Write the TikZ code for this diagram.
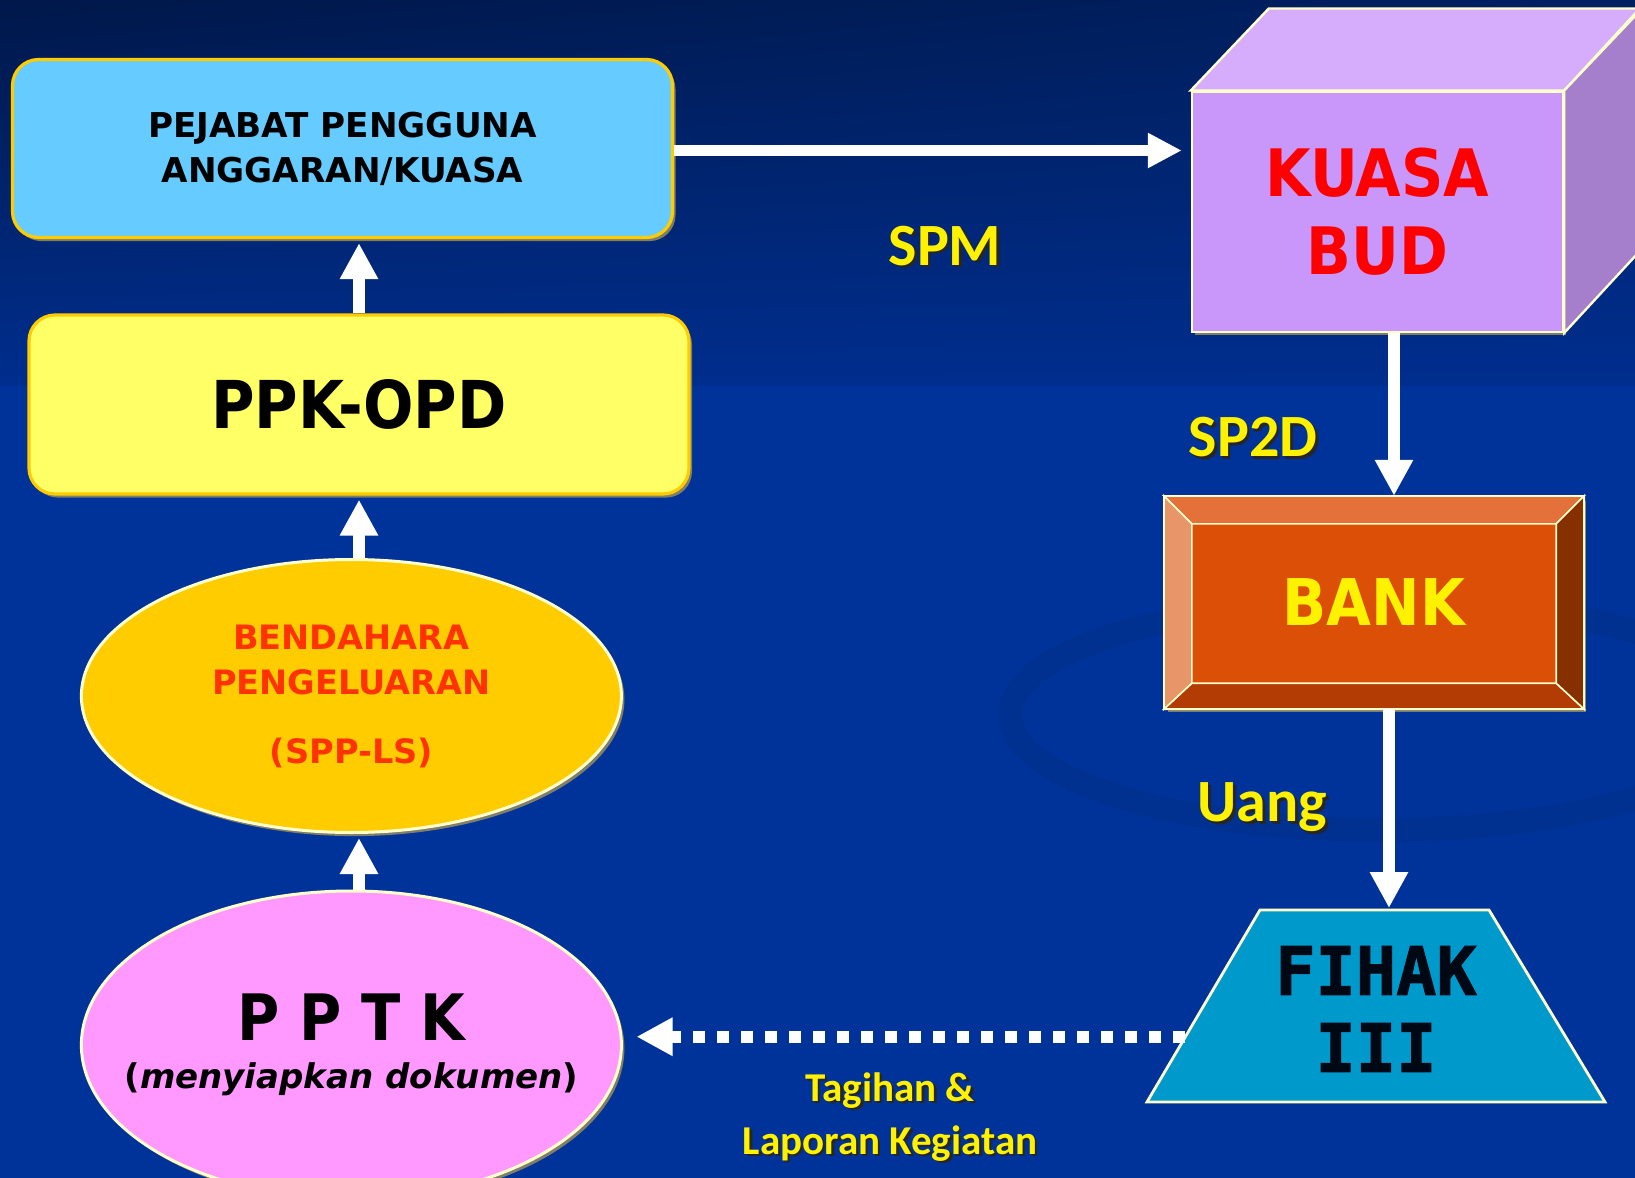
\documentclass[tikz,border=0pt]{standalone}
\usepackage{fontspec}
\setmainfont{DejaVu Sans}
\newfontfamily\condfont{DejaVu Sans Condensed Bold}
\newfontfamily\monobold[FakeBold=1.5]{DejaVu Sans Mono Bold}
\newfontfamily\calfont{Carlito}
\usetikzlibrary{shapes.geometric,arrows.meta,calc,shadows,shadings}

\definecolor{bgtop}{RGB}{0,24,74}
\definecolor{bgtopright}{RGB}{0,32,98}
\definecolor{bgband}{RGB}{0,46,142}
\definecolor{bgmid}{RGB}{0,51,153}
\definecolor{skyblue}{RGB}{102,204,255}
\definecolor{lemon}{RGB}{255,255,102}
\definecolor{gold}{RGB}{255,204,0}
\definecolor{cream}{RGB}{255,255,204}
\definecolor{ppkpink}{RGB}{255,153,255}
\definecolor{redorange}{RGB}{255,51,0}
\definecolor{lilac}{RGB}{201,151,250}
\definecolor{lilactop}{RGB}{214,172,252}
\definecolor{lilacside}{RGB}{165,127,204}
\definecolor{brick}{RGB}{220,79,6}
\definecolor{bricktop}{RGB}{228,112,58}
\definecolor{brickleft}{RGB}{232,150,105}
\definecolor{brickright}{RGB}{134,48,0}
\definecolor{brickbottom}{RGB}{178,60,4}
\definecolor{fihakblue}{RGB}{0,153,204}
\definecolor{shade}{RGB}{140,135,100}

% yellow label with a dark shadow
\newcommand{\shtext}[1]{\makebox[0pt][l]{\hspace{1.3pt}\raisebox{-1.3pt}{\color{black!85}#1}}#1}

\begin{document}
\begin{tikzpicture}[x=0.5pt,y=-0.5pt,
    box/.style={rectangle,rounded corners=13pt,draw=gold,line width=1.6pt,
        minimum width=330pt,minimum height=89pt,align=center,
        drop shadow={shadow xshift=1.5pt,shadow yshift=-1.8pt,fill=shade,opacity=.9}},
    oval/.style={ellipse,draw=cream,line width=1.5pt,minimum width=270pt,align=center,inner sep=0pt,
        drop shadow={shadow xshift=1.5pt,shadow yshift=-1.8pt,fill=shade,opacity=.9}},
    flow/.style={draw=white,line width=5.8pt,-{Triangle[width=18pt,length=18pt]}},
    dotflow/.style={draw=white,line width=5.8pt,dash pattern=on 6.2pt off 5.8pt,
        -{Triangle[width=18pt,length=18pt]}},
    lbl/.style={text=yellow,inner sep=0pt,anchor=base,
        font=\calfont\bfseries\fontsize{30}{36}\selectfont},
    facet/.style={draw=cream,line width=.8pt}]

  \useasboundingbox (0,0) rectangle (1635,1178);
  \clip (0,0) rectangle (1635,1178);

  % background
  \fill[bgmid] (0,0) rectangle (1635,1178);
  \shade[upper left=bgtop,upper right=bgtopright,lower left=bgband,lower right=bgband]
    (0,0) rectangle (1635,385);
  \draw[line width=12pt,black,opacity=.06] (1380,715) ellipse [x radius=370,y radius=115];

  % left column
  \node[box,fill=skyblue,font=\bfseries\fontsize{17.1}{22.5}\selectfont] (pejabat)
    at (342.5,148.5) {PEJABAT PENGGUNA\\ANGGARAN/KUASA};
  \node[box,fill=lemon,minimum height=89.5pt,font=\condfont\fontsize{33}{36}\selectfont] (ppk)
    at (359,404.5) {PPK-OPD};
  \node[oval,fill=gold,minimum height=136.5pt,text=redorange,
    font=\bfseries\fontsize{16.8}{22.5}\selectfont] (bendahara)
    at (351.4,696) {BENDAHARA\\PENGELUARAN\\[12pt](SPP-LS)};
  \node[oval,fill=ppkpink,minimum height=154pt,font=\bfseries\fontsize{17}{24}\selectfont] (pptk)
    at (351.4,1045) {{\condfont\fontsize{32}{24}\selectfont P P T K}\\
    \makebox[150pt]{(\textit{menyiapkan dokumen})}};

  % KUASA BUD cube
  \node[rectangle,fill=lilac,draw=cream,line width=1.2pt,minimum width=185.5pt,minimum height=120pt,
    align=center,text=red,font=\condfont\fontsize{32.7}{38.75}\selectfont,
    drop shadow={shadow xshift=1.5pt,shadow yshift=-1.8pt,fill=shade,opacity=.9}] (kuasa)
    at (1377.5,211.7) {KUASA\\BUD};
  \draw[facet,line width=1.2pt,fill=lilactop] (kuasa.north west) -- ++(78,-82) -- ++(371,0)
    -- (kuasa.north east) -- cycle;
  \draw[facet,line width=1.2pt,fill=lilacside] (kuasa.north east) -- ++(78,-82) -- ++(0,240)
    -- (kuasa.south east) -- cycle;

  % BANK
  \node[rectangle,fill=brick,draw=cream,line width=1.2pt,minimum width=209pt,minimum height=105.5pt,
    text=yellow,font=\condfont\fontsize{32.2}{38}\selectfont,
    drop shadow={shadow xshift=1.5pt,shadow yshift=-1.8pt,fill=shade,opacity=.9}] (bank)
    at (1374,602.5) {BANK};
  \coordinate (bnw) at ($(bank.north west)+(28,28)$);
  \coordinate (bne) at ($(bank.north east)+(-28,28)$);
  \coordinate (bsw) at ($(bank.south west)+(28,-26)$);
  \coordinate (bse) at ($(bank.south east)+(-28,-26)$);
  \draw[facet,fill=bricktop] (bank.north west) -- (bank.north east) -- (bne) -- (bnw) -- cycle;
  \draw[facet,fill=brickbottom] (bank.south west) -- (bank.south east) -- (bse) -- (bsw) -- cycle;
  \draw[facet,fill=brickleft] (bank.north west) -- (bnw) -- (bsw) -- (bank.south west) -- cycle;
  \draw[facet,fill=brickright] (bank.north east) -- (bne) -- (bse) -- (bank.south east) -- cycle;
  \draw[cream,line width=1.2pt] (bank.north west) rectangle (bank.south east);

  % FIHAK III
  \coordinate (ftl) at (1260,910);
  \coordinate (ftr) at (1489,910);
  \coordinate (fbr) at (1605,1102);
  \coordinate (fbl) at (1147,1102);
  \fill[shade,opacity=.9,xshift=1.5pt,yshift=-1.8pt] (ftl) -- (ftr) -- (fbr) -- (fbl) -- cycle;
  \filldraw[fill=fihakblue,draw=cream,line width=1.4pt] (ftl) -- (ftr) -- (fbr) -- (fbl) -- cycle;
  \node[align=center,text={rgb,255:red,0;green,8;blue,20},
    font=\monobold\fontsize{33.5}{38.5}\selectfont] (fihak) at (1376,1009) {FIHAK\\III};

  % connectors
  \draw[flow,shorten >=2pt] (ppk.north) -- (ppk.north |- pejabat.south);
  \draw[flow,shorten >=2pt] (ppk.south |- bendahara.north) -- (ppk.south);
  \draw[flow,shorten >=2pt] (ppk.south |- pptk.north) -- (ppk.south |- bendahara.south);
  \draw[draw=white,line width=5.6pt,-{Triangle[width=16.5pt,length=17pt]},shorten >=4.5pt]
    ([yshift=-1pt]pejabat.east) -- ([yshift=-1pt]pejabat.east -| kuasa.west);
  \draw[flow] ([xshift=8.25pt]kuasa.south) -- ([xshift=8.25pt]kuasa.south |- bank.north);
  \draw[flow,shorten >=1pt] ([xshift=7.5pt]bank.south) -- ([xshift=7.5pt]bank.south |- ftl);
  \coordinate (fihakin) at ($(fbl)!0.34!(ftl)$);
  \draw[dotflow,shorten >=6.8pt] (fihakin) -- (fihakin -| pptk.east);

  % labels
  \node[lbl] (spm) at (945,265) {\shtext{SPM}};
  \node[lbl] (sp2d) at (1253,456.7) {\shtext{SP2D}};
  \node[lbl] (uang) at (1262.5,821.7) {\shtext{Uang}};
  \node[lbl,anchor=north,align=center,font=\calfont\bfseries\fontsize{20.5}{26.5}\selectfont] (tagihan)
    at (890,1072) {\shtext{Tagihan \&}\\\shtext{Laporan Kegiatan}};
\end{tikzpicture}
\end{document}
